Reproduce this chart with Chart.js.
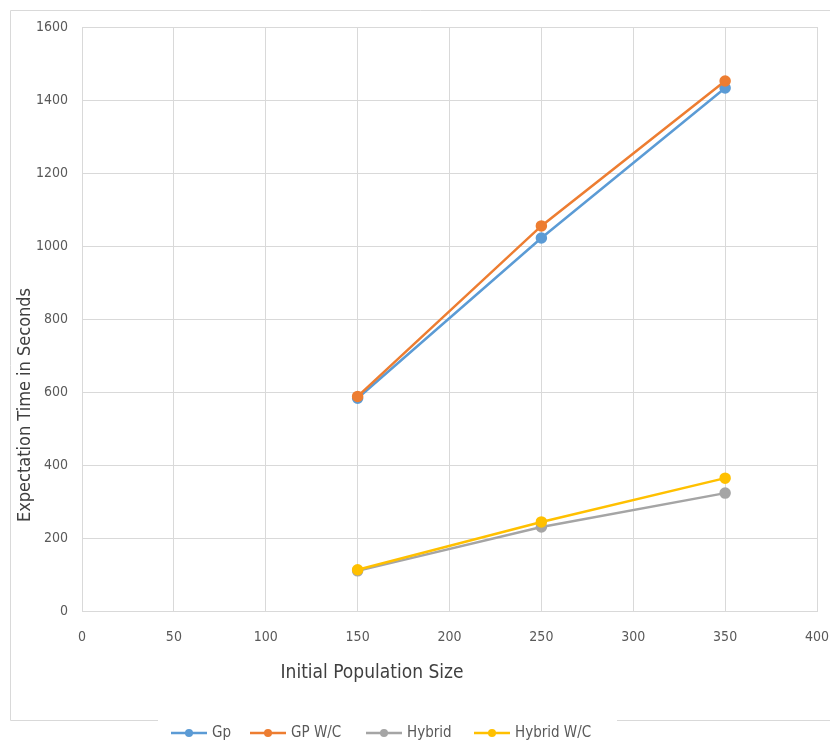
<!DOCTYPE html>
<html>
<head>
<meta charset="utf-8">
<script src="https://cdn.jsdelivr.net/npm/chart.js@4/dist/chart.umd.min.js"></script>
<style>
  body { margin: 0; background: #fff; }
  #wrap { width: 830px; height: 742px; position: relative; }
</style>
</head>
<body>
<div id="wrap"><canvas id="chart"></canvas></div>
<script>
// data
const popSizes = [150, 250, 350];
const gp = [583, 1022, 1433];
const gpWC = [588, 1055, 1452];
const hybrid = [110, 230, 323];
const hybridWC = [113, 244, 364];
const seriesNames = ["Gp", "GP W/C", "Hybrid", "Hybrid W/C"];
const seriesColors = ["#5B9BD5", "#ED7D31", "#A5A5A5", "#FFC000"];

const FONT = "'Liberation Sans Narrow', 'DejaVu Sans Condensed', sans-serif";

const toPoints = vals => vals.map((v, i) => ({ x: popSizes[i], y: v }));

const mkSet = (i, vals) => ({
    label: seriesNames[i],
    data: toPoints(vals),
    borderColor: seriesColors[i],
    backgroundColor: seriesColors[i],
    borderWidth: 2.5,
    pointRadius: 4.5,
    pointHoverRadius: 4.5,
    tension: 0
});

// frame, axis titles and legend, drawn like the office chart
const decor = {
    id: "decor",
    beforeDraw(chart) {
        const ctx = chart.ctx;
        ctx.save();
        ctx.strokeStyle = "#d9d9d9";
        ctx.lineWidth = 1;
        ctx.beginPath();
        ctx.moveTo(158, 720.5);
        ctx.lineTo(10.5, 720.5);
        ctx.lineTo(10.5, 10.5);
        ctx.lineTo(835, 10.5);
        ctx.moveTo(617, 720.5);
        ctx.lineTo(835, 720.5);
        ctx.stroke();
        ctx.restore();
    },
    afterDraw(chart) {
        const ctx = chart.ctx;
        ctx.save();
        ctx.fillStyle = "#404040";
        ctx.textBaseline = "middle";
        ctx.textAlign = "center";
        ctx.font = "19px " + FONT;
        ctx.fillText("Initial Population Size", 372, 673);

        ctx.translate(25, 405);
        ctx.rotate(-Math.PI / 2);
        ctx.font = "18px " + FONT;
        ctx.fillText("Expectation Time in Seconds", 0, 0);
        ctx.restore();

        // legend
        const items = [171, 250, 366, 474];
        ctx.save();
        ctx.font = "15px " + FONT;
        ctx.textBaseline = "middle";
        ctx.textAlign = "left";
        items.forEach((x, i) => {
            const y = 733;
            ctx.strokeStyle = seriesColors[i];
            ctx.lineWidth = 2.5;
            ctx.beginPath();
            ctx.moveTo(x, y);
            ctx.lineTo(x + 36, y);
            ctx.stroke();
            ctx.fillStyle = seriesColors[i];
            ctx.beginPath();
            ctx.arc(x + 18, y, 4, 0, Math.PI * 2);
            ctx.fill();
            ctx.fillStyle = "#595959";
            ctx.fillText(seriesNames[i], x + 41, y);
        });
        ctx.restore();
    }
};

new Chart(document.getElementById("chart"), {
    type: "line",
    data: {
        datasets: [mkSet(3, hybridWC), mkSet(2, hybrid), mkSet(1, gpWC), mkSet(0, gp)]
    },
    options: {
        responsive: true,
        maintainAspectRatio: false,
        animation: false,
        layout: { padding: { top: 27, right: 13, bottom: 0, left: 0 } },
        plugins: { legend: { display: false }, tooltip: { enabled: false } },
        scales: {
            x: {
                type: "linear",
                min: 0,
                max: 400,
                afterFit: s => { s.height = 131; s.paddingRight = 0; s.paddingLeft = 0; },
                ticks: { stepSize: 50, padding: 18, color: "#595959", font: { family: FONT, size: 14 }, callback: v => String(v) },
                grid: { color: "#d9d9d9", drawTicks: false },
                border: { color: "#d9d9d9" }
            },
            y: {
                min: 0,
                max: 1600,
                afterFit: s => { s.width = 82; },
                ticks: { stepSize: 200, padding: 14, color: "#595959", font: { family: FONT, size: 14 }, callback: v => String(v) },
                grid: { color: "#d9d9d9", drawTicks: false },
                border: { display: false }
            }
        }
    },
    plugins: [decor]
});
</script>
</body>
</html>
